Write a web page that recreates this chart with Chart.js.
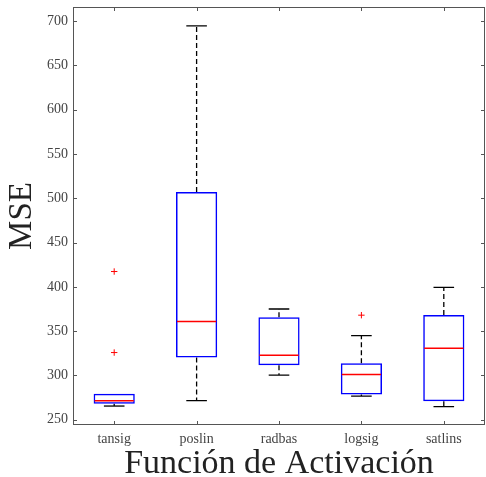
<!DOCTYPE html>
<html>
<head>
<meta charset="utf-8">
<script src="https://cdn.jsdelivr.net/npm/chart.js@4"></script>
<style>
    html, body { margin: 0; padding: 0; background: white; overflow: hidden; }
    #contenedor { width: 486px; height: 477px; }
</style>
</head>
<body>
<div id="contenedor"><canvas id="graficaCajas"></canvas></div>
<script>
        const funciones = ['tansig', 'poslin', 'radbas', 'logsig', 'satlins'];
        const minimos = [265.4, 271.5, 300.4, 276.7, 264.7];
        const cuartil1 = [268.1, 320.1, 311.4, 278.3, 270.7];
        const medianas = [271.5, 360.8, 322.7, 300.9, 330.6];
        const cuartil3 = [279.4, 507.0, 365.7, 313.7, 368.3];
        const maximos = [279.4, 694.7, 375.0, 345.0, 399.3];
        const atipicosFuncion = ['tansig', 'tansig', 'logsig'];
        const atipicosValor = [417.3, 325.8, 368.0];
        const ticksY = [250, 300, 350, 400, 450, 500, 550, 600, 650, 700];

        const colorEje = '#555555';

        // bigotes y topes, antes de dibujar las cajas
        const bigotes = {
            id: 'bigotes',
            beforeDatasetsDraw(chart){
                const ctx = chart.ctx;
                const x = chart.scales.x;
                const y = chart.scales.y;
                const cajas = chart.getDatasetMeta(0).data;
                ctx.save();
                ctx.strokeStyle = 'black';
                ctx.lineWidth = 1.3;
                funciones.forEach((f, i) => {
                    const cx = x.getPixelForValue(i);
                    const medio = cajas[i].width / 4;
                    ctx.setLineDash([5, 3]);
                    ctx.beginPath();
                    ctx.moveTo(cx, y.getPixelForValue(cuartil3[i]));
                    ctx.lineTo(cx, y.getPixelForValue(maximos[i]));
                    ctx.moveTo(cx, y.getPixelForValue(cuartil1[i]));
                    ctx.lineTo(cx, y.getPixelForValue(minimos[i]));
                    ctx.stroke();
                    ctx.setLineDash([]);
                    ctx.beginPath();
                    if(maximos[i] > cuartil3[i]){
                        ctx.moveTo(cx - medio, y.getPixelForValue(maximos[i]));
                        ctx.lineTo(cx + medio, y.getPixelForValue(maximos[i]));
                    }
                    ctx.moveTo(cx - medio, y.getPixelForValue(minimos[i]));
                    ctx.lineTo(cx + medio, y.getPixelForValue(minimos[i]));
                    ctx.stroke();
                });
                ctx.restore();
            },
            afterDatasetsDraw(chart){
                const ctx = chart.ctx;
                const y = chart.scales.y;
                const cajas = chart.getDatasetMeta(0).data;
                ctx.save();
                ctx.strokeStyle = '#ff0000';
                ctx.lineWidth = 1.5;
                medianas.forEach((m, i) => {
                    const caja = cajas[i];
                    const py = y.getPixelForValue(m);
                    ctx.beginPath();
                    ctx.moveTo(caja.x - caja.width / 2 + 1, py);
                    ctx.lineTo(caja.x + caja.width / 2 - 1, py);
                    ctx.stroke();
                });
                ctx.restore();
            },
            afterDraw(chart){
                // marco y marcas hacia adentro, como en matlab
                const ctx = chart.ctx;
                const a = chart.chartArea;
                const x = chart.scales.x;
                const y = chart.scales.y;
                const largo = 4;
                ctx.save();
                ctx.strokeStyle = colorEje;
                ctx.lineWidth = 1;
                ctx.strokeRect(a.left + 0.5, a.top + 0.5, a.right - a.left - 1, a.bottom - a.top - 1);
                ctx.beginPath();
                y.ticks.forEach((t, i) => {
                    const py = Math.round(y.getPixelForTick(i)) + 0.5;
                    ctx.moveTo(a.left, py);
                    ctx.lineTo(a.left + largo, py);
                    ctx.moveTo(a.right, py);
                    ctx.lineTo(a.right - largo, py);
                });
                x.ticks.forEach((t, i) => {
                    const px = Math.round(x.getPixelForTick(i)) + 0.5;
                    ctx.moveTo(px, a.bottom);
                    ctx.lineTo(px, a.bottom - largo);
                    ctx.moveTo(px, a.top);
                    ctx.lineTo(px, a.top + largo);
                });
                ctx.stroke();
                ctx.restore();
            }
        };

        const cajas = funciones.map((f, i) => [cuartil1[i], cuartil3[i]]);
        const atipicos = atipicosValor.map((v, i) => ({ x: atipicosFuncion[i], y: v }));

        const ctx = document.getElementById('graficaCajas');

        new Chart(ctx, {
            type: 'bar',
            data: {
                labels: funciones,
                datasets: [{
                    type: 'bar',
                    data: cajas,
                    backgroundColor: 'rgba(0,0,0,0)',
                    borderColor: '#0000ff',
                    borderWidth: 1.5,
                    borderSkipped: false,
                    categoryPercentage: 1.0,
                    barPercentage: 0.5
                }, {
                    type: 'scatter',
                    data: atipicos,
                    pointStyle: 'cross',
                    pointRadius: 3.2,
                    borderColor: '#ff0000',
                    borderWidth: 1,
                    showLine: false
                }]
            },
            options: {
                responsive: true,
                maintainAspectRatio: false,
                animation: false,
                layout: {
                    autoPadding: false,
                    padding: { top: 7, right: 1, left: 0, bottom: 0 }
                },
                scales: {
                    x: {
                        type: 'category',
                        offset: true,
                        grid: { display: false, drawTicks: false },
                        border: { display: false },
                        ticks: {
                            color: '#444444',
                            padding: 6,
                            font: { family: 'Liberation Serif', size: 14 }
                        },
                        title: {
                            display: true,
                            text: 'Función de Activación',
                            color: '#222222',
                            font: { family: 'Liberation Serif', size: 34, lineHeight: 1 },
                            padding: { top: 0, bottom: -4 }
                        },
                        afterFit: scale => {
                            scale.height = 52;
                            scale.paddingLeft = 0;
                            scale.paddingRight = 0;
                        }
                    },
                    y: {
                        min: 244,
                        max: 716,
                        grid: { display: false, drawTicks: false },
                        border: { display: false },
                        afterBuildTicks: scale => {
                            scale.ticks = ticksY.map(v => ({ value: v }));
                        },
                        ticks: {
                            color: '#444444',
                            padding: 5,
                            font: { family: 'Liberation Serif', size: 14 }
                        },
                        title: {
                            display: true,
                            text: 'MSE',
                            color: '#222222',
                            font: { family: 'Liberation Serif', size: 33, lineHeight: 1 },
                            padding: { top: 5.5, bottom: 0 }
                        },
                        afterFit: scale => {
                            scale.width = 73;
                            scale.paddingTop = 0;
                            scale.paddingBottom = 0;
                        }
                    }
                },
                plugins: {
                    legend: { display: false },
                    tooltip: { enabled: false }
                }
            },
            plugins: [bigotes]
        });
</script>
</body>
</html>
